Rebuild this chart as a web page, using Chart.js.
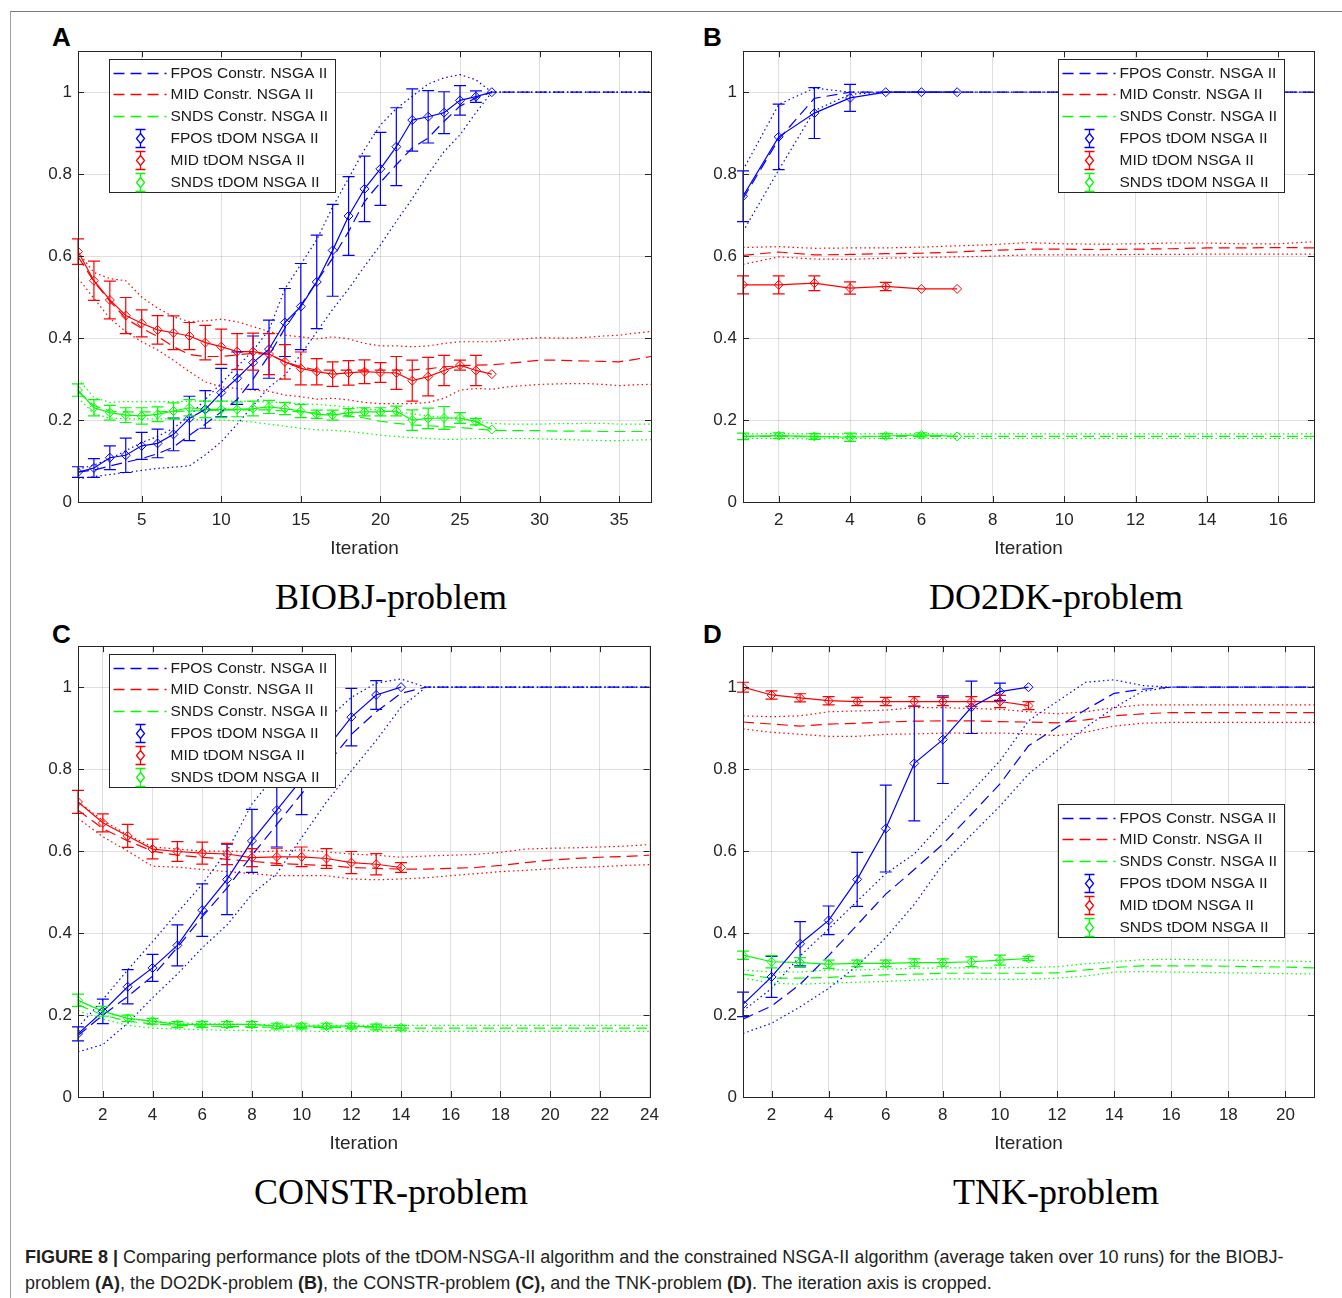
<!DOCTYPE html>
<html>
<head>
<meta charset="utf-8">
<script src="https://cdn.jsdelivr.net/npm/chart.js@4.4.0/dist/chart.umd.min.js"></script>
<style>
body { margin: 0; background: #fff; width: 1342px; height: 1298px; position: relative; overflow: hidden; font-family: "Liberation Sans", Arial, sans-serif; }
#frame { position: absolute; left: 10px; top: 11px; right: -2px; bottom: -2px; border-top: 1px solid #7a7a7a; border-left: 1px solid #a0a0a0; }
canvas { position: absolute; }
.tag { position: absolute; font: bold 26px "Liberation Sans", Arial; line-height: 26px; color: #000; }
.ptitle { position: absolute; width: 600px; text-align: center; font: 36px "Liberation Serif", "Times New Roman", serif; line-height: 40px; color: #000; }
#caption { position: absolute; left: 25px; top: 1244px; font-size: 18px; line-height: 26px; color: #231f20; white-space: nowrap; }
</style>
</head>
<body>
<div id="frame"></div>
<div class="tag" style="left:52px;top:24px">A</div>
<div class="tag" style="left:703px;top:24px">B</div>
<div class="tag" style="left:52px;top:621px">C</div>
<div class="tag" style="left:703px;top:621px">D</div>
<canvas id="chartA" width="639" height="527" style="left:28px;top:35px"></canvas>
<canvas id="chartB" width="637" height="527" style="left:693px;top:35px"></canvas>
<canvas id="chartC" width="639" height="527" style="left:28px;top:630px"></canvas>
<canvas id="chartD" width="637" height="527" style="left:693px;top:630px"></canvas>
<div class="ptitle" style="left:91px;top:577px">BIOBJ-problem</div>
<div class="ptitle" style="left:756px;top:577px">DO2DK-problem</div>
<div class="ptitle" style="left:91px;top:1172px">CONSTR-problem</div>
<div class="ptitle" style="left:756px;top:1172px">TNK-problem</div>
<div id="caption"><b>FIGURE 8 |</b> Comparing performance plots of the tDOM-NSGA-II algorithm and the constrained NSGA-II algorithm (average taken over 10 runs) for the BIOBJ-<br>problem <b>(A)</b>, the DO2DK-problem <b>(B)</b>, the CONSTR-problem <b>(C),</b> and the TNK-problem <b>(D)</b>. The iteration axis is cropped.</div>

<script>
var yTicks = [0, 0.2, 0.4, 0.6, 0.8, 1];
var legendLabels = ["FPOS Constr. NSGA II", "MID Constr. NSGA II", "SNDS Constr. NSGA II",
                    "FPOS tDOM NSGA II", "MID tDOM NSGA II", "SNDS tDOM NSGA II"];
var blue = "#0000ff", red = "#ff0000", green = "#00ff00";

// ---- A: BIOBJ ----
var xTicksA = [5, 10, 15, 20, 25, 30, 35];
var fposTdomA = [0.073,0.083,0.108,0.114,0.137,0.143,0.165,0.204,0.226,0.267,0.302,0.34,0.373,0.438,0.477,0.537,0.614,0.698,0.764,0.813,0.867,0.932,0.94,0.95,0.98,0.989,1.0];
var fposTdomErrA = [0.013,0.023,0.029,0.042,0.033,0.035,0.04,0.054,0.046,0.059,0.064,0.065,0.071,0.083,0.105,0.114,0.112,0.096,0.08,0.089,0.095,0.076,0.064,0.051,0.036,0.014,0];
var midTdomA = [0.611,0.54,0.493,0.455,0.436,0.42,0.413,0.405,0.389,0.379,0.367,0.367,0.361,0.342,0.326,0.318,0.312,0.315,0.318,0.316,0.315,0.296,0.306,0.321,0.334,0.321,0.312];
var midTdomErrA = [0.031,0.048,0.046,0.044,0.033,0.035,0.041,0.033,0.042,0.043,0.044,0.045,0.05,0.042,0.04,0.032,0.03,0.03,0.029,0.024,0.04,0.05,0.047,0.037,0.012,0.037,0];
var sndsTdomA = [0.273,0.23,0.218,0.212,0.21,0.214,0.222,0.23,0.226,0.226,0.226,0.228,0.232,0.228,0.222,0.214,0.212,0.218,0.22,0.22,0.222,0.2,0.204,0.205,0.205,0.196,0.177];
var sndsTdomErrA = [0.015,0.02,0.018,0.018,0.02,0.018,0.02,0.02,0.02,0.02,0.018,0.018,0.016,0.015,0.016,0.01,0.012,0.01,0.01,0.01,0.012,0.025,0.025,0.028,0.013,0.008,0];
var fposConA = [0.073,0.078,0.088,0.097,0.106,0.118,0.134,0.163,0.19,0.22,0.25,0.3,0.358,0.424,0.48,0.538,0.595,0.66,0.733,0.78,0.823,0.864,0.888,0.929,0.966,0.986,1,1,1,1,1,1,1,1,1,1,1];
var fposConHiA = [0.08,0.09,0.105,0.125,0.145,0.16,0.18,0.21,0.25,0.29,0.33,0.37,0.42,0.52,0.58,0.64,0.72,0.79,0.86,0.92,0.96,0.99,1.02,1.035,1.043,1.03,1,1,1,1,1,1,1,1,1,1,1];
var fposConLoA = [0.057,0.062,0.067,0.072,0.077,0.082,0.085,0.088,0.115,0.147,0.19,0.235,0.28,0.31,0.36,0.415,0.47,0.52,0.575,0.627,0.685,0.74,0.8,0.855,0.896,0.95,1,1,1,1,1,1,1,1,1,1,1];
var midConA = [0.599,0.538,0.49,0.448,0.424,0.404,0.379,0.36,0.355,0.355,0.359,0.363,0.36,0.342,0.33,0.322,0.322,0.322,0.322,0.322,0.322,0.322,0.325,0.33,0.332,0.334,0.335,0.338,0.342,0.346,0.346,0.345,0.344,0.343,0.342,0.348,0.355];
var midConHiA = [0.61,0.56,0.545,0.54,0.5,0.473,0.452,0.44,0.442,0.446,0.44,0.428,0.416,0.407,0.403,0.398,0.403,0.398,0.387,0.381,0.381,0.379,0.381,0.387,0.391,0.391,0.391,0.395,0.398,0.401,0.4,0.4,0.402,0.405,0.407,0.412,0.416];
var midConLoA = [0.546,0.497,0.448,0.416,0.391,0.371,0.346,0.318,0.293,0.281,0.277,0.273,0.27,0.261,0.257,0.251,0.253,0.249,0.243,0.24,0.24,0.24,0.243,0.253,0.273,0.277,0.275,0.281,0.284,0.287,0.288,0.289,0.289,0.287,0.284,0.286,0.287];
var sndsConA = [0.27,0.235,0.222,0.22,0.22,0.22,0.221,0.222,0.223,0.224,0.225,0.225,0.225,0.222,0.22,0.217,0.215,0.21,0.205,0.197,0.192,0.188,0.186,0.184,0.182,0.178,0.175,0.174,0.174,0.174,0.173,0.173,0.173,0.172,0.172,0.172,0.172];
var sndsConHiA = [0.3,0.255,0.243,0.245,0.245,0.245,0.245,0.246,0.246,0.246,0.246,0.245,0.244,0.242,0.24,0.238,0.235,0.232,0.228,0.224,0.22,0.215,0.21,0.206,0.202,0.197,0.192,0.19,0.19,0.19,0.191,0.191,0.192,0.192,0.19,0.19,0.19];
var sndsConLoA = [0.255,0.215,0.205,0.203,0.203,0.203,0.203,0.202,0.2,0.2,0.198,0.195,0.19,0.185,0.18,0.176,0.175,0.172,0.168,0.163,0.16,0.157,0.155,0.153,0.153,0.155,0.155,0.155,0.155,0.154,0.153,0.152,0.151,0.15,0.15,0.151,0.152];

// ---- B: DO2DK ----
var xTicksB = [2, 4, 6, 8, 10, 12, 14, 16];
var fposTdomB = [0.746,0.891,0.949,0.986,1,1,1];
var fposTdomErrB = [0.062,0.08,0.062,0.033,0,0,0];
var midTdomB = [0.53,0.53,0.534,0.522,0.526,0.52,0.52];
var midTdomErrB = [0.022,0.022,0.018,0.015,0.01,0,0];
var sndsTdomB = [0.16,0.162,0.16,0.158,0.161,0.164,0.16];
var sndsTdomErrB = [0.008,0.007,0.007,0.01,0.006,0.005,0];
var fposConB = [0.74,0.885,0.985,1,1,1,1,1,1,1,1,1,1,1,1,1,1];
var fposConHiB = [0.81,0.97,1.01,1,1,1,1,1,1,1,1,1,1,1,1,1,1];
var fposConLoB = [0.66,0.81,0.955,0.995,1,1,1,1,1,1,1,1,1,1,1,1,1];
var midConB = [0.602,0.61,0.603,0.604,0.606,0.607,0.61,0.614,0.617,0.617,0.616,0.617,0.618,0.62,0.62,0.621,0.62];
var midConHiB = [0.621,0.623,0.619,0.62,0.62,0.622,0.625,0.628,0.633,0.63,0.629,0.63,0.632,0.632,0.63,0.63,0.635];
var midConLoB = [0.58,0.598,0.593,0.592,0.595,0.597,0.598,0.6,0.603,0.603,0.603,0.604,0.604,0.605,0.605,0.605,0.605];
var sndsConB = [0.16,0.16,0.159,0.16,0.16,0.16,0.16,0.16,0.16,0.16,0.16,0.16,0.16,0.16,0.16,0.16,0.16];
var sndsConHiB = [0.166,0.167,0.166,0.166,0.166,0.167,0.166,0.166,0.166,0.166,0.166,0.166,0.166,0.166,0.166,0.166,0.166];
var sndsConLoB = [0.155,0.155,0.154,0.155,0.155,0.155,0.155,0.155,0.155,0.155,0.155,0.155,0.155,0.155,0.155,0.155,0.155];

// ---- C: CONSTR ----
var xTicksC = [2, 4, 6, 8, 10, 12, 14, 16, 18, 20, 22, 24];
var fposTdomC = [0.154,0.209,0.269,0.315,0.37,0.456,0.531,0.625,0.7,0.775,0.85,0.927,0.981,1];
var fposTdomErrC = [0.017,0.03,0.042,0.033,0.05,0.064,0.086,0.077,0.09,0.086,0.07,0.07,0.035,0];
var midTdomC = [0.72,0.669,0.637,0.605,0.599,0.595,0.593,0.584,0.586,0.586,0.582,0.572,0.568,0.56];
var midTdomErrC = [0.028,0.022,0.028,0.024,0.024,0.027,0.026,0.022,0.021,0.024,0.024,0.027,0.026,0.012];
var sndsTdomC = [0.236,0.209,0.192,0.185,0.177,0.177,0.177,0.177,0.173,0.173,0.173,0.173,0.171,0.169];
var sndsTdomErrC = [0.015,0.012,0.008,0.007,0.007,0.007,0.007,0.007,0.007,0.007,0.007,0.007,0.007,0.006];
var fposConC = [0.15,0.2,0.245,0.295,0.365,0.44,0.51,0.59,0.665,0.74,0.81,0.885,0.94,0.985,1,1,1,1,1,1,1,1,1,1];
var fposConHiC = [0.17,0.238,0.31,0.379,0.45,0.519,0.6,0.715,0.79,0.86,0.92,0.975,1.01,1.02,1,1,1,1,1,1,1,1,1,1];
var fposConLoC = [0.11,0.128,0.18,0.242,0.3,0.364,0.42,0.495,0.545,0.633,0.72,0.796,0.87,0.951,1,1,1,1,1,1,1,1,1,1];
var midConC = [0.7,0.655,0.625,0.6,0.59,0.585,0.58,0.575,0.57,0.567,0.565,0.56,0.558,0.556,0.556,0.558,0.56,0.565,0.572,0.578,0.582,0.585,0.587,0.59];
var midConHiC = [0.72,0.675,0.64,0.61,0.605,0.6,0.6,0.598,0.6,0.603,0.598,0.593,0.59,0.585,0.588,0.59,0.592,0.597,0.605,0.607,0.608,0.61,0.612,0.616];
var midConLoC = [0.68,0.635,0.6,0.563,0.561,0.555,0.55,0.545,0.54,0.54,0.54,0.532,0.53,0.532,0.535,0.54,0.545,0.55,0.553,0.557,0.56,0.562,0.565,0.567];
var sndsConC = [0.225,0.2,0.185,0.178,0.175,0.173,0.172,0.171,0.17,0.17,0.17,0.169,0.169,0.168,0.168,0.168,0.168,0.168,0.168,0.168,0.168,0.168,0.168,0.168];
var sndsConHiC = [0.235,0.21,0.192,0.184,0.181,0.179,0.178,0.177,0.176,0.176,0.175,0.175,0.175,0.175,0.175,0.175,0.175,0.175,0.175,0.175,0.175,0.175,0.175,0.175];
var sndsConLoC = [0.21,0.19,0.175,0.168,0.166,0.164,0.163,0.162,0.161,0.161,0.16,0.16,0.16,0.16,0.16,0.16,0.16,0.16,0.16,0.16,0.16,0.16,0.16,0.16];

// ---- D: TNK ----
var xTicksD = [2, 4, 6, 8, 10, 12, 14, 16, 18, 20];
var fposTdomD = [0.226,0.293,0.374,0.431,0.531,0.655,0.814,0.872,0.951,0.989,1];
var fposTdomErrD = [0.03,0.05,0.054,0.035,0.066,0.106,0.14,0.107,0.064,0.021,0];
var midTdomD = [1.0,0.981,0.974,0.967,0.965,0.965,0.965,0.965,0.965,0.965,0.955];
var midTdomErrD = [0.012,0.01,0.01,0.01,0.01,0.01,0.012,0.01,0.012,0.015,0.01];
var sndsTdomD = [0.346,0.33,0.328,0.324,0.326,0.326,0.328,0.328,0.33,0.334,0.338];
var sndsTdomErrD = [0.01,0.015,0.012,0.01,0.008,0.008,0.009,0.009,0.012,0.012,0.005];
var fposConD = [0.19,0.222,0.275,0.345,0.42,0.495,0.555,0.617,0.69,0.764,0.857,0.902,0.945,0.985,0.995,1,1,1,1,1,1];
var fposConHiD = [0.21,0.265,0.344,0.41,0.478,0.545,0.593,0.67,0.745,0.82,0.918,0.965,1.012,1.018,1.004,1,1,1,1,1,1];
var fposConLoD = [0.155,0.18,0.22,0.265,0.32,0.389,0.47,0.568,0.64,0.71,0.788,0.845,0.902,0.95,0.99,1,1,1,1,1,1];
var midConD = [0.915,0.91,0.905,0.91,0.912,0.915,0.917,0.918,0.918,0.916,0.915,0.913,0.92,0.93,0.935,0.938,0.938,0.938,0.938,0.938,0.938];
var midConHiD = [0.93,0.928,0.93,0.94,0.942,0.944,0.95,0.95,0.948,0.946,0.94,0.935,0.94,0.95,0.957,0.957,0.957,0.957,0.957,0.957,0.957];
var midConLoD = [0.898,0.89,0.885,0.88,0.88,0.885,0.886,0.888,0.888,0.888,0.886,0.882,0.89,0.905,0.912,0.914,0.914,0.914,0.914,0.914,0.914];
var sndsConD = [0.3,0.29,0.29,0.292,0.295,0.298,0.3,0.302,0.302,0.302,0.302,0.303,0.31,0.316,0.32,0.32,0.32,0.319,0.318,0.317,0.315];
var sndsConHiD = [0.31,0.305,0.305,0.31,0.31,0.312,0.314,0.315,0.315,0.315,0.316,0.318,0.325,0.33,0.335,0.336,0.335,0.334,0.333,0.332,0.33];
var sndsConLoD = [0.29,0.278,0.275,0.278,0.28,0.282,0.285,0.288,0.288,0.287,0.287,0.29,0.295,0.305,0.306,0.305,0.304,0.303,0.302,0.301,0.3];

var axisColor = "#262626";
var gridColor = "rgba(38,38,38,0.15)";

function pts(arr) {
    return arr.map((v, i) => ({x: i + 1, y: v}));
}

function constrSets(color, mean, hi, lo) {
    return [
        {data: pts(mean), borderColor: color, borderWidth: 1.2, borderDash: [11, 6], pointRadius: 0, order: 3},
        {data: pts(hi), borderColor: color, borderWidth: 1.2, borderDash: [1.5, 3], pointRadius: 0, order: 4},
        {data: pts(lo), borderColor: color, borderWidth: 1.2, borderDash: [1.5, 3], pointRadius: 0, order: 4}
    ];
}

function tdomSet(color, mean, err) {
    return {data: pts(mean), errors: err, borderColor: color, borderWidth: 1.2,
            pointStyle: 'rectRot', pointRadius: 4.5, pointBorderWidth: 1,
            pointBorderColor: color, pointBackgroundColor: 'rgba(0,0,0,0)', order: 1};
}

// vertical error bars with caps, drawn through the chart scales
var errorBarPlugin = {
    id: 'errorBars',
    afterDatasetsDraw(chart) {
        let ctx = chart.ctx, xs = chart.scales.x, ys = chart.scales.y;
        chart.data.datasets.forEach(ds => {
            if (!ds.errors) return;
            ctx.save();
            ctx.strokeStyle = ds.borderColor;
            ctx.lineWidth = 1.2;
            ds.data.forEach((p, i) => {
                let e = ds.errors[i];
                if (!e) return;
                let px = xs.getPixelForValue(p.x);
                let y1 = ys.getPixelForValue(p.y + e), y2 = ys.getPixelForValue(p.y - e);
                ctx.beginPath();
                ctx.moveTo(px, y1); ctx.lineTo(px, y2);
                ctx.moveTo(px - 6, y1); ctx.lineTo(px + 6, y1);
                ctx.moveTo(px - 6, y2); ctx.lineTo(px + 6, y2);
                ctx.stroke();
            });
            ctx.restore();
        });
    }
};

// matlab style box with inward ticks
var framePlugin = {
    id: 'boxFrame',
    afterDatasetsDraw(chart) {
        let ctx = chart.ctx, a = chart.chartArea, xs = chart.scales.x, ys = chart.scales.y;
        ctx.save();
        ctx.strokeStyle = axisColor;
        ctx.lineWidth = 1;
        ctx.strokeRect(Math.round(a.left) + 0.5, Math.round(a.top) + 0.5, Math.round(a.right - a.left), Math.round(a.bottom - a.top));
        ctx.beginPath();
        xs.ticks.forEach(t => {
            let px = Math.round(xs.getPixelForValue(t.value)) + 0.5;
            ctx.moveTo(px, a.bottom); ctx.lineTo(px, a.bottom - 6);
            ctx.moveTo(px, a.top); ctx.lineTo(px, a.top + 6);
        });
        ys.ticks.forEach(t => {
            let py = Math.round(ys.getPixelForValue(t.value)) + 0.5;
            ctx.moveTo(a.left, py); ctx.lineTo(a.left + 6, py);
            ctx.moveTo(a.right, py); ctx.lineTo(a.right - 6, py);
        });
        ctx.stroke();
        ctx.restore();
    }
};

var legendPlugin = {
    id: 'boxLegend',
    afterDraw(chart, args, opts) {
        let ctx = chart.ctx, a = chart.chartArea;
        let x0 = Math.round(a.left + opts.dx) + 0.5, y0 = Math.round(a.top + opts.dy) + 0.5;
        let w = 226, h = 133, row = 21.8;
        let cols = [blue, red, green];
        ctx.save();
        ctx.fillStyle = '#fff';
        ctx.fillRect(x0, y0, w, h);
        ctx.strokeStyle = axisColor;
        ctx.lineWidth = 1;
        ctx.strokeRect(x0, y0, w, h);
        ctx.font = '15.5px "Liberation Sans", Arial';
        ctx.textBaseline = 'middle';
        legendLabels.forEach((lab, i) => {
            let cy = Math.round(y0 + 13 + i * row) + 0.5;
            ctx.strokeStyle = cols[i % 3];
            ctx.lineWidth = 1.3;
            ctx.beginPath();
            if (i < 3) {
                ctx.setLineDash([11, 6]);
                ctx.moveTo(x0 + 4, cy); ctx.lineTo(x0 + 57, cy);
                ctx.stroke();
                ctx.setLineDash([]);
            } else {
                let cx = x0 + 31;
                ctx.moveTo(cx, cy - 9); ctx.lineTo(cx, cy + 9);
                ctx.moveTo(cx - 5, cy - 9); ctx.lineTo(cx + 5, cy - 9);
                ctx.moveTo(cx - 5, cy + 9); ctx.lineTo(cx + 5, cy + 9);
                ctx.stroke();
                ctx.beginPath();
                ctx.moveTo(cx, cy - 5); ctx.lineTo(cx + 4, cy); ctx.lineTo(cx, cy + 5); ctx.lineTo(cx - 4, cy); ctx.closePath();
                ctx.fillStyle = '#fff';
                ctx.fill();
                ctx.stroke();
            }
            ctx.fillStyle = '#1a1a1a';
            ctx.fillText(lab, x0 + 61, cy);
        });
        ctx.restore();
    }
};

function makeChart(id, xMax, xTicks, sets, legendPos) {
    let canvas = document.getElementById(id);
    return new Chart(canvas.getContext('2d'), {
        type: 'line',
        data: {datasets: sets},
        options: {
            responsive: false,
            animation: false,
            layout: {padding: {top: 16, right: 16, left: 0, bottom: 0}},
            plugins: {
                legend: {display: false},
                tooltip: {enabled: false},
                boxLegend: legendPos
            },
            elements: {line: {tension: 0}},
            scales: {
                x: {
                    type: 'linear', min: 1, max: xMax,
                    afterBuildTicks: s => { s.ticks = xTicks.map(v => ({value: v})); },
                    afterFit: s => { s.height = 60; },
                    grid: {color: gridColor, drawTicks: false},
                    border: {display: false},
                    ticks: {padding: 8, autoSkip: false, maxRotation: 0, color: axisColor,
                            font: {size: 17, family: '"Liberation Sans", Arial'},
                            callback: v => v.toString()},
                    title: {display: true, text: 'Iteration', color: axisColor,
                            font: {size: 19, family: '"Liberation Sans", Arial'},
                            padding: {top: 0, bottom: 2}}
                },
                y: {
                    min: 0, max: 1.1,
                    afterBuildTicks: s => { s.ticks = yTicks.map(v => ({value: v})); },
                    afterFit: s => { s.width = 50; },
                    grid: {color: gridColor, drawTicks: false},
                    border: {display: false},
                    ticks: {padding: 6, color: axisColor,
                            font: {size: 17, family: '"Liberation Sans", Arial'},
                            callback: v => v.toString()}
                }
            }
        },
        plugins: [errorBarPlugin, framePlugin, legendPlugin]
    });
}

makeChart('chartA', 37, xTicksA, [].concat(
    constrSets(blue, fposConA, fposConHiA, fposConLoA),
    constrSets(red, midConA, midConHiA, midConLoA),
    constrSets(green, sndsConA, sndsConHiA, sndsConLoA),
    [tdomSet(blue, fposTdomA, fposTdomErrA), tdomSet(red, midTdomA, midTdomErrA), tdomSet(green, sndsTdomA, sndsTdomErrA)]
), {dx: 31, dy: 8});

makeChart('chartB', 17, xTicksB, [].concat(
    constrSets(blue, fposConB, fposConHiB, fposConLoB),
    constrSets(red, midConB, midConHiB, midConLoB),
    constrSets(green, sndsConB, sndsConHiB, sndsConLoB),
    [tdomSet(blue, fposTdomB, fposTdomErrB), tdomSet(red, midTdomB, midTdomErrB), tdomSet(green, sndsTdomB, sndsTdomErrB)]
), {dx: 315, dy: 8});

makeChart('chartC', 24, xTicksC, [].concat(
    constrSets(blue, fposConC, fposConHiC, fposConLoC),
    constrSets(red, midConC, midConHiC, midConLoC),
    constrSets(green, sndsConC, sndsConHiC, sndsConLoC),
    [tdomSet(blue, fposTdomC, fposTdomErrC), tdomSet(red, midTdomC, midTdomErrC), tdomSet(green, sndsTdomC, sndsTdomErrC)]
), {dx: 31, dy: 8});

makeChart('chartD', 21, xTicksD, [].concat(
    constrSets(blue, fposConD, fposConHiD, fposConLoD),
    constrSets(red, midConD, midConHiD, midConLoD),
    constrSets(green, sndsConD, sndsConHiD, sndsConLoD),
    [tdomSet(blue, fposTdomD, fposTdomErrD), tdomSet(red, midTdomD, midTdomErrD), tdomSet(green, sndsTdomD, sndsTdomErrD)]
), {dx: 315, dy: 158});
</script>
</body>
</html>
